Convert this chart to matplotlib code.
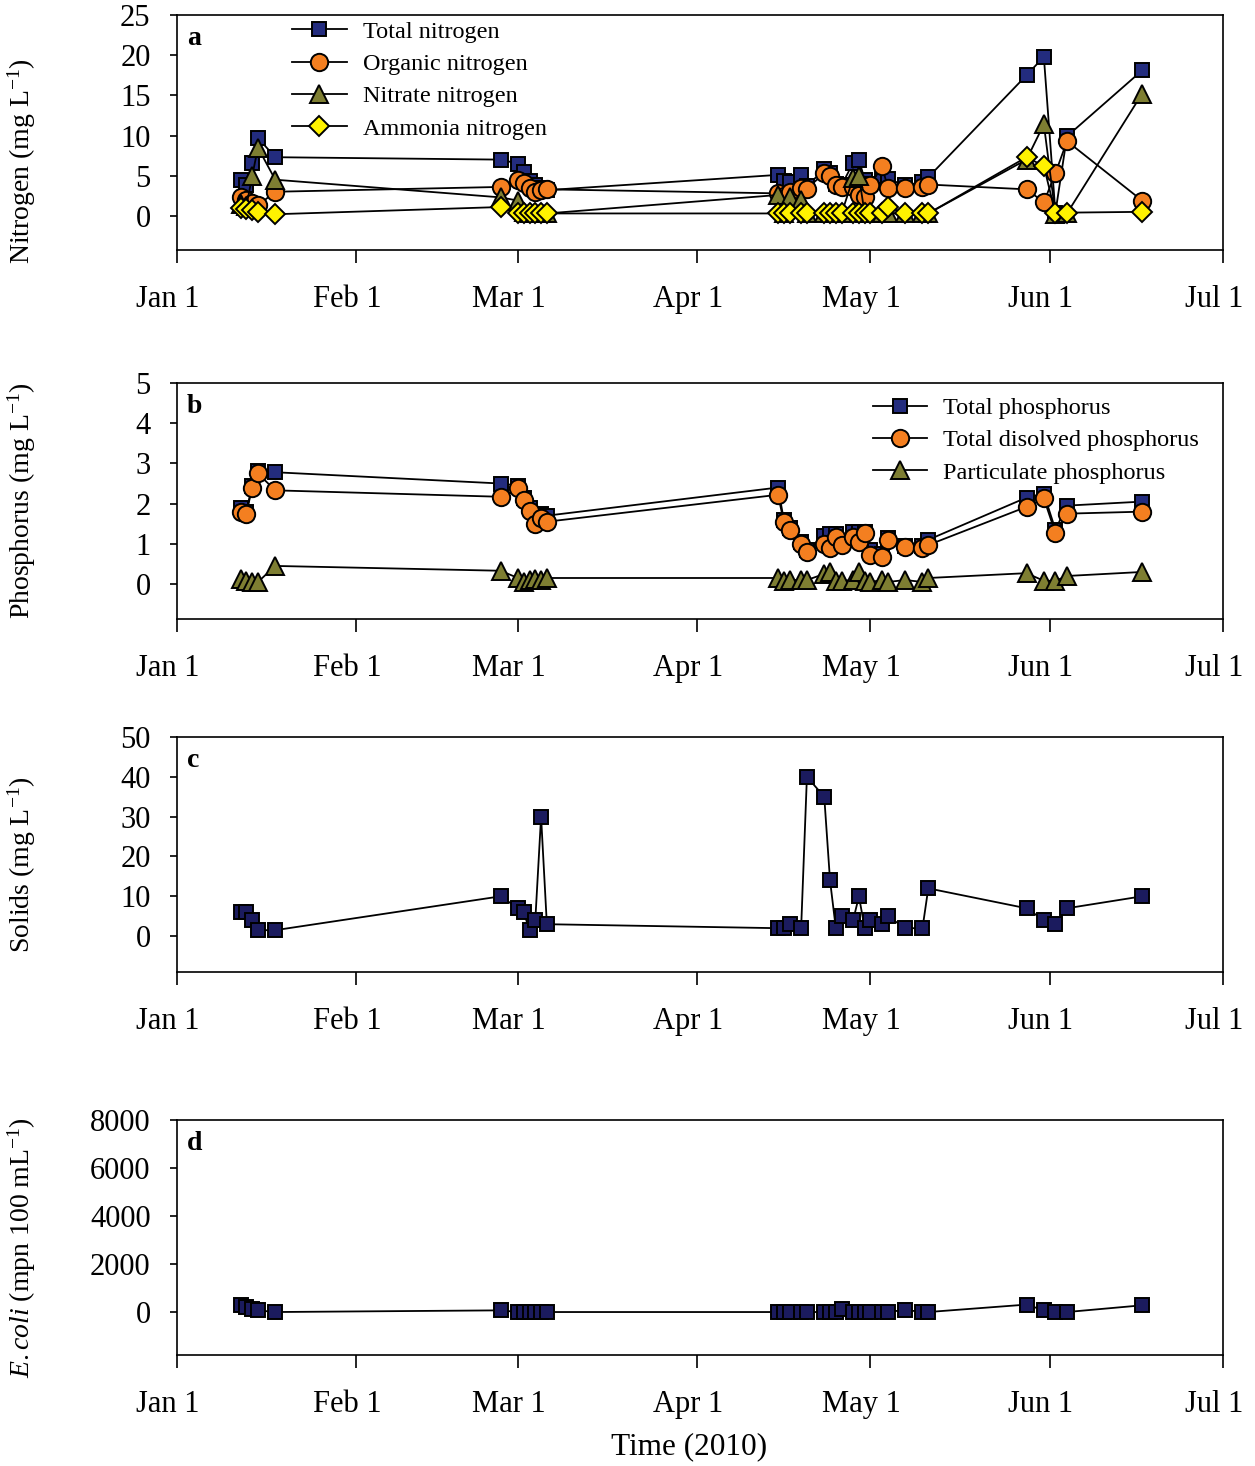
import numpy as np
import pandas as pd
import matplotlib
matplotlib.use("Agg")
import matplotlib.pyplot as plt
import matplotlib.transforms as mtransforms

plt.rcParams['font.family'] = ['Liberation Serif', 'DejaVu Serif']
plt.rcParams['mathtext.fontset'] = 'custom'
plt.rcParams['mathtext.rm'] = 'Liberation Serif'
plt.rcParams['mathtext.it'] = 'Liberation Serif:italic'
plt.rcParams['mathtext.bf'] = 'Liberation Serif:bold'

# ---------------- data ----------------
dates = pd.to_datetime([
    "2010-01-12", "2010-01-13", "2010-01-14", "2010-01-15", "2010-01-18",
    "2010-02-26", "2010-03-01", "2010-03-02", "2010-03-03", "2010-03-04", "2010-03-05", "2010-03-06",
    "2010-04-15", "2010-04-16", "2010-04-17", "2010-04-19", "2010-04-20", "2010-04-23", "2010-04-24",
    "2010-04-25", "2010-04-26", "2010-04-28", "2010-04-29", "2010-04-30", "2010-05-01", "2010-05-03",
    "2010-05-04", "2010-05-07", "2010-05-10", "2010-05-11",
    "2010-05-28", "2010-05-31", "2010-06-02", "2010-06-04", "2010-06-17"])

total_nitrogen = [4.5, 3.9, 6.6, 9.7, 7.3,
                  7.0, 6.5, 5.4, 4.3, 3.8, 3.5, 3.2,
                  5.1, 4.4, 4.2, 5.1, 3.7, 5.8, 5.3, 4.0, 3.8, 6.6, 7.0, 4.5, 4.0, 4.9, 4.6, 3.8, 4.2, 4.8,
                  17.5, 19.8, 0.4, 9.9, 18.1]
organic_nitrogen = [2.3, 2.0, 1.6, 1.3, 3.0,
                    3.6, 4.5, 4.1, 3.5, 3.0, 3.2, 3.3,
                    2.8, 2.5, 3.0, 3.5, 3.4, 5.3, 4.9, 3.8, 3.6, 3.6, 2.6, 2.4, 3.8, 6.2, 3.5, 3.5, 3.6, 3.9,
                    3.3, 1.7, 5.3, 9.3, 1.9]
nitrate_nitrogen = [1.5, 1.2, 4.9, 8.5, 4.5,
                    2.3, 1.9, 0.5, 0.3, 0.3, 0.3, 0.3,
                    2.6, 0.3, 2.4, 2.0, 0.3, 0.3, 0.3, 0.3, 0.3, 4.7, 4.9, 0.3, 0.3, 0.3, 0.3, 0.3, 0.3, 0.3,
                    7.0, 11.4, 0.2, 0.3, 15.2]
ammonia_nitrogen = [1.0, 0.9, 0.7, 0.5, 0.2,
                    1.1, 0.3, 0.3, 0.3, 0.3, 0.3, 0.3,
                    0.3, 0.3, 0.3, 0.3, 0.3, 0.3, 0.3, 0.3, 0.3, 0.3, 0.3, 0.3, 0.3, 0.3, 1.1, 0.3, 0.3, 0.3,
                    7.3, 6.2, 0.3, 0.4, 0.5]

total_phosphorus = [1.9, 1.8, 2.45, 2.8, 2.78,
                    2.5, 2.45, 2.15, 1.9, 1.65, 1.75, 1.7,
                    2.4, 1.6, 1.4, 1.05, 0.85, 1.2, 1.25, 1.25, 1.05, 1.3, 1.3, 1.3, 0.85, 0.75, 1.15, 0.95, 0.95, 1.1,
                    2.15, 2.25, 1.35, 1.95, 2.05]
dissolved_phosphorus = [1.8, 1.75, 2.4, 2.75, 2.33,
                        2.17, 2.38, 2.1, 1.82, 1.5, 1.65, 1.55,
                        2.22, 1.55, 1.35, 1.0, 0.8, 1.0, 0.9, 1.17, 0.97, 1.17, 1.05, 1.27, 0.72, 0.67, 1.1, 0.92, 0.9, 0.97,
                        1.92, 2.13, 1.27, 1.75, 1.8]
particulate_phosphorus = [0.12, 0.08, 0.05, 0.05, 0.45,
                          0.33, 0.15, 0.05, 0.1, 0.12, 0.1, 0.15,
                          0.15, 0.08, 0.1, 0.1, 0.1, 0.25, 0.3, 0.08, 0.08, 0.1, 0.3, 0.08, 0.05, 0.1, 0.05, 0.1, 0.05, 0.15,
                          0.27, 0.08, 0.08, 0.2, 0.3]

solids = [6, 6, 4, 1.5, 1.5,
          10, 7, 6, 1.5, 4, 30, 3,
          2, 2, 3, 2, 40, 35, 14, 2, 5, 4, 10, 2, 4, 3, 5, 2, 2, 12,
          7, 4, 3, 7, 10]

e_coli = [310, 210, 140, 70, 0,
          70, 0, 0, 0, 0, 0, 0,
          0, 0, 0, 0, 0, 0, 0, 0, 120, 0, 0, 0, 0, 0, 0, 90, 0, 0,
          310, 70, 0, 0, 280]

tick_dates = pd.to_datetime(["2010-01-01", "2010-02-01", "2010-03-01", "2010-04-01",
                             "2010-05-01", "2010-06-01", "2010-07-01"])
tick_labels = ["Jan 1", "Feb 1", "Mar 1", "Apr 1", "May 1", "Jun 1", "Jul 1"]

# ---------------- styles ----------------
NAVY = '#232C7E'
NAVY_D = '#1B1B5E'
ORANGE = '#F47F20'
OLIVE = '#7E7E32'
YELLOW = '#FFF200'
W, H = 1255, 1466

fig = plt.figure(figsize=(W / 100, H / 100), dpi=100)

def make_ax(top, bottom):
    return fig.add_axes([177 / W, 1 - bottom / H, 1046 / W, (bottom - top) / H])

panels = [(15, 250), (383, 619), (737, 972), (1120, 1355)]
axes = [make_ax(t, b) for t, b in panels]

lw = 1.3
mew = 1.4
common = dict(color='black', lw=lw, markeredgecolor='black', markeredgewidth=mew)
leg_kw = dict(frameon=False, fontsize=17.5, handlelength=2.25, handletextpad=0.65,
              labelspacing=0.42, borderpad=0, borderaxespad=0, loc='upper left')

ax = axes[0]
ax.plot(dates, total_nitrogen, marker='s', ms=10.5, markerfacecolor=NAVY, label='Total nitrogen', **common)
ax.plot(dates, organic_nitrogen, marker='o', ms=12.5, markerfacecolor=ORANGE, label='Organic nitrogen', **common)
ax.plot(dates, nitrate_nitrogen, marker='^', ms=12.5, markerfacecolor=OLIVE, label='Nitrate nitrogen', **common)
ax.plot(dates, ammonia_nitrogen, marker='D', ms=10, markerfacecolor=YELLOW, label='Ammonia nitrogen', **common)
ax.set_ylim(-4.25, 25)
ax.set_yticks([0, 5, 10, 15, 20, 25])
ax.set_ylabel('Nitrogen (mg L$^{\\mathregular{-1}}$)')
ax.legend(bbox_to_anchor=(0.11, 0.975), **leg_kw)

ax = axes[1]
ax.plot(dates, total_phosphorus, marker='s', ms=10.5, markerfacecolor=NAVY, label='Total phosphorus', **common)
ax.plot(dates, dissolved_phosphorus, marker='o', ms=12.5, markerfacecolor=ORANGE, label='Total disolved phosphorus', **common)
ax.plot(dates, particulate_phosphorus, marker='^', ms=12.5, markerfacecolor=OLIVE, label='Particulate phosphorus', **common)
ax.set_ylim(-0.87, 5)
ax.set_yticks([0, 1, 2, 3, 4, 5])
ax.set_ylabel('Phosphorus (mg L$^{\\mathregular{-1}}$)')
ax.legend(bbox_to_anchor=(0.665, 0.94), **leg_kw)

ax = axes[2]
ax.plot(dates, solids, marker='s', ms=10.5, markerfacecolor=NAVY_D, **common)
ax.set_ylim(-9, 50)
ax.set_yticks([0, 10, 20, 30, 40, 50])
ax.set_ylabel('Solids (mg L$^{\\mathregular{-1}}$)')

ax = axes[3]
ax.plot(dates, e_coli, marker='s', ms=10, markerfacecolor=NAVY_D, **common)
ax.set_ylim(-1790, 8000)
ax.set_yticks([0, 2000, 4000, 6000, 8000])
ax.set_ylabel('$\\mathit{E. coli}$ (mpn 100 mL$^{\\mathregular{-1}}$)')
ax.set_xlabel('Time (2010)', fontsize=22.5, va='top')
ax.xaxis.set_label_coords(0.49, -0.33)

label_y = [0.38, 0.5, 0.457, 0.457]
offset = mtransforms.ScaledTranslation(-9 / 100, 0, fig.dpi_scale_trans)
for letter, ax, ly in zip('abcd', axes, label_y):
    ax.set_xlim(tick_dates[0], tick_dates[-1])
    ax.set_xticks(tick_dates)
    ax.set_xticklabels(tick_labels)
    ax.tick_params(axis='x', direction='out', length=9, width=1.2, pad=16, labelsize=22)
    ax.tick_params(axis='y', direction='out', length=5, width=1.2, pad=14, labelsize=22)
    for sp in ax.spines.values():
        sp.set_linewidth(1.2)
    for lbl in ax.get_xticklabels():
        lbl.set_transform(lbl.get_transform() + offset)
    ax.yaxis.label.set_size(20)
    ax.yaxis.set_label_coords(-0.133, ly)
    ax.annotate(letter, xy=(0, 1), xycoords='axes fraction', xytext=(7, -8),
                textcoords='offset points', ha='left', va='top', fontsize=20, fontweight='bold')

fig.savefig('out.png', dpi=100)
